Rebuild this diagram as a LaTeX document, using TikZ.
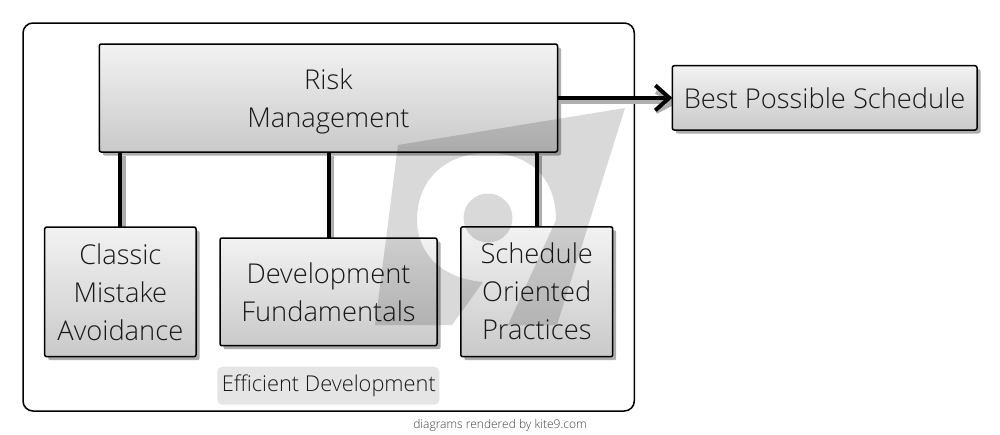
\documentclass[tikz,border=0pt]{standalone}
\usepackage{fontspec}
\setmainfont{Open Sans Light}
\usetikzlibrary{arrows.meta}
\usetikzlibrary{shadows}
\definecolor{boxtop}{gray}{0.95}
\definecolor{boxbot}{gray}{0.79}
\definecolor{shadowgray}{gray}{0.68}
\tikzset{
  block/.style={rectangle, draw=black, line width=1.5pt, rounded corners=2pt, top color=boxtop, bottom color=boxbot, general shadow={fill=shadowgray, shadow xshift=3.5pt, shadow yshift=-3.5pt}, align=center, inner sep=0pt, outer sep=0pt, font=\fontsize{27.3}{38}\selectfont, text=black!90, anchor=north west},
  link/.style={draw=black, line width=4pt},
  linkshadow/.style={draw=shadowgray, line width=4pt}
}
\begin{document}
\begin{tikzpicture}[x=1pt, y=-1pt]
\useasboundingbox (0, 0) rectangle (1000, 434);
\fill[white] (0, 0) rectangle (1000, 434);

%draw container
\draw[line width=1.5pt, rounded corners=10pt] (23, 23) rectangle (634.3, 411);
\node[fill=black!10, rounded corners=5pt, minimum width=222pt, minimum height=38pt, inner sep=0pt, font=\fontsize{21.8}{26}\selectfont, text=black!90] (label) at (328.3, 385.7) {\hspace{1pt}Efficient Development};
\node[inner sep=0pt, font=\fontsize{12}{14}\selectfont, text=black!75] (credit) at (500, 425) {diagrams rendered by kite9.com};

%draw shadows of the links
\draw[linkshadow] (124, 156) -- (124, 227);
\draw[linkshadow] (332, 156) -- (332, 238);
\draw[linkshadow] (540.2, 156) -- (540.2, 227);
\draw[linkshadow] (560, 102) -- (672, 102);
\draw[linkshadow] (656, 92) -- (675, 102) -- (656, 112);

%draw blocks
\node[block, minimum width=458.2pt, minimum height=108pt] (risk) at (99.3, 44) {Risk\\\smash{Management}};
\node[block, minimum width=151.3pt, minimum height=129.7pt] (classic) at (44.7, 227) {Classic\\Mistake\\Avoidance};
\node[block, minimum width=217pt, minimum height=107.7pt] (fundamentals) at (220, 238) {Development\\Fundamentals};
\node[block, minimum width=151.9pt, minimum height=129.9pt] (practices) at (460.8, 226.8) {Schedule\\Oriented\\Practices};
\node[block, minimum width=304.7pt, minimum height=64.3pt] (schedule) at (672.3, 65.7) {Best Possible Schedule};

%draw links
\draw[link] (risk.south -| classic.north) -- (classic.north);
\draw[link] (risk.south -| fundamentals.north) -- (fundamentals.north);
\draw[link] (risk.south -| practices.north) -- (practices.north);
\draw[link, -{Straight Barb[length=14pt, width=25pt, line width=4pt]}] (risk.east |- schedule.west) -- (schedule.west);

%draw watermark
\fill[black, opacity=0.15] (398, 145) -- (625, 108) -- (557, 325) -- (508, 325) -- (556, 220) .. controls (556, 178) and (530, 153) .. (488, 153) .. controls (445, 153) and (417, 180) .. (417, 220) .. controls (417, 245) and (432, 277) .. (483, 282) -- (452, 325) -- (375, 325) -- cycle;
\fill[black, opacity=0.15] (488, 218) circle (24.5pt);
\end{tikzpicture}
\end{document}
